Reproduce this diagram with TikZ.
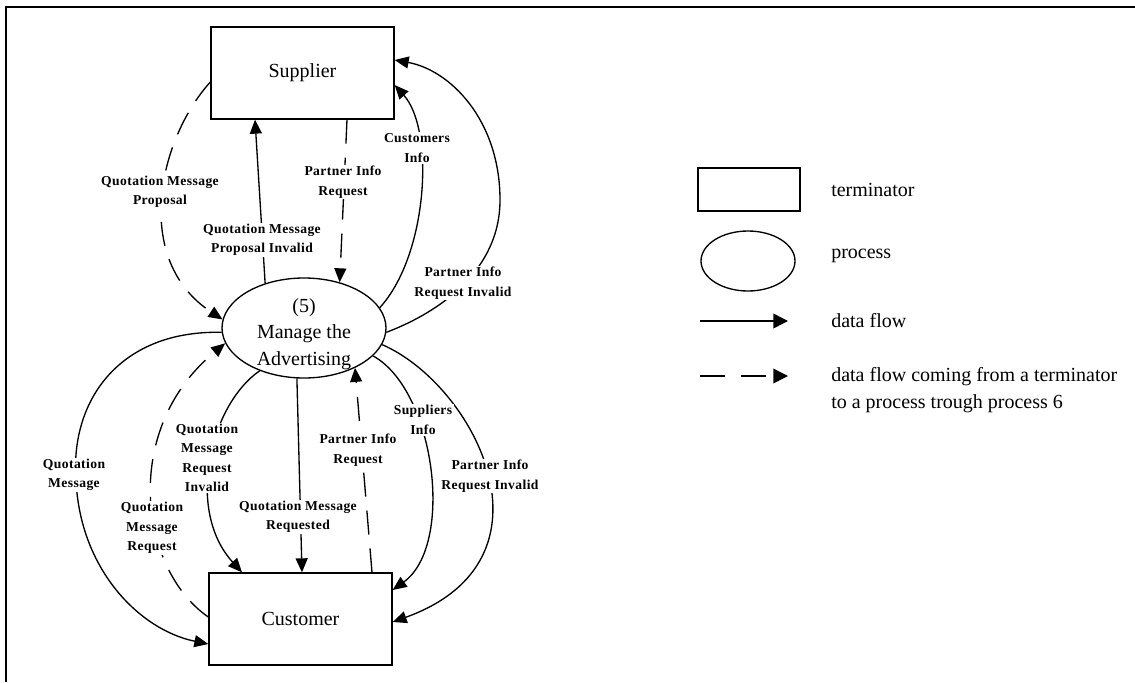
\documentclass[tikz,border=0pt]{standalone}
\usepackage{fontspec}
\setmainfont{Liberation Serif}
\newfontfamily\lblfont[LetterSpace=3]{Liberation Serif}
\usetikzlibrary{arrows.meta,shapes.geometric,calc}

\tikzset{
  termbox/.style={draw,line width=1pt,rectangle,minimum width=137.25pt,minimum height=69pt,inner sep=0pt,
    font=\fontsize{15pt}{20pt}\selectfont},
  procell/.style={draw,line width=1pt,ellipse,minimum width=123pt,minimum height=75pt,inner sep=0pt},
  bigtext/.style={align=center,inner sep=0pt,font=\fontsize{15pt}{20pt}\selectfont},
  lbl/.style={fill=white,inner sep=1pt,align=center,font=\lblfont\bfseries\fontsize{10.2pt}{14.5pt}\selectfont},
  legtext/.style={anchor=west,align=left,inner sep=0pt,font=\fontsize{15pt}{20pt}\selectfont},
  flow/.style={line width=1pt,-{Triangle[length=10.5pt,width=9pt]}},
  dflow/.style={flow,dash pattern=on 18pt off 10.5pt},
  legflow/.style={line width=1.1pt,-{Triangle[length=11pt,width=11pt]}},
}

\begin{document}
\begin{tikzpicture}[x=0.75pt,y=-0.75pt]
\useasboundingbox (0,0) rectangle (1135,682);

% frame
\draw[line width=1.6pt] (6,682) -- (6,7) -- (1135,7);

% terminators and the process
\node[termbox] (sup) at (302.5,73) {Supplier};
\node[termbox] (cus) at (300.5,619) {Customer};
\node[procell] (proc) at (304,328) {};
\node[bigtext] (proctxt) at (304,334) {(5)\\Manage the\\Advertising};

% flows between Supplier and the process
\draw[dflow] ($(sup.west)+(0,9)$) .. controls (158,140) and (132,260) .. (proc.174);
\draw[flow] (proc.131) -- ($(sup.south)+(-47.5,0)$);
\draw[dflow] ($(sup.south)+(44.5,0)$) -- (proc.52);
\draw[flow] (proc.15) .. controls (428,255) and (435,130) .. ($(sup.east)+(0,12)$);
\draw[flow] (proc.-3) .. controls (440,312) and (500,270) .. (500,200)
  .. controls (500,120) and (450,70) .. ($(sup.east)+(0,-13)$);

% flows between the process and Customer
\draw[flow] (proc.183) .. controls (120,330) and (70,400) .. (76,480)
  .. controls (80,570) and (140,630) .. ($(cus.west)+(0,25)$);
\draw[dflow] ($(cus.west)+(0,-2)$) .. controls (140,570) and (120,430) .. (proc.191);
\draw[flow] (proc.224) .. controls (210,405) and (185,510) .. ($(cus.north)+(-58.5,0)$);
\draw[flow] (proc.262) -- ($(cus.north)+(1.5,0)$);
\draw[dflow] ($(cus.north)+(71.5,0)$) -- (proc.-38);
\draw[flow] (proc.-22) .. controls (435,390) and (455,545) .. ($(cus.east)+(0,-29)$);
\draw[flow] (proc.-12) .. controls (475,385) and (565,560) .. ($(cus.east)+(0,3)$);

% flow labels
\node[lbl] (l1) at (160,192) {Quotation Message\\Proposal};
\node[lbl] (l2) at (262,240) {Quotation Message\\Proposal Invalid};
\node[lbl] (l3) at (343,182) {Partner Info\\Request};
\node[lbl] (l4) at (417,148) {Customers\\Info};
\node[lbl] (l5) at (463,283) {Partner Info\\Request Invalid};
\node[lbl] (l6) at (74,475) {Quotation\\Message};
\node[lbl] (l7) at (152,528) {Quotation\\Message\\Request};
\node[lbl] (l8) at (207,458) {Quotation\\Message\\Request\\Invalid};
\node[lbl] (l9) at (298,517) {Quotation Message\\Requested};
\node[lbl] (l10) at (358,450) {Partner Info\\Request};
\node[lbl] (l11) at (423,420) {Suppliers\\Info};
\node[lbl] (l12) at (490,476) {Partner Info\\Request Invalid};

% legend
\node[draw,line width=1pt,rectangle,minimum width=76.5pt,minimum height=32.25pt,inner sep=0pt] (kterm) at (749,189.5) {};
\node[draw,line width=1pt,ellipse,minimum width=70.5pt,minimum height=45pt,inner sep=0pt] (kproc) at (748,261) {};
\coordinate (kf1) at (700,321);
\coordinate (kf2) at (788,321);
\coordinate (kd1) at (700,376);
\coordinate (kd2) at (788,376);
\draw[legflow] (kf1) -- (kf2);
\draw[legflow,dash pattern=on 18.75pt off 12pt] (kd1) -- (kd2);
\node[legtext] (tterm) at (831,190) {terminator};
\node[legtext] (tproc) at (831,256) {process};
\node[legtext] (tflow) at (831,321) {data flow};
\node[legtext] (tdflow) at (831,390) {data flow coming from a terminator\\to a process trough process 6};
\end{tikzpicture}
\end{document}
